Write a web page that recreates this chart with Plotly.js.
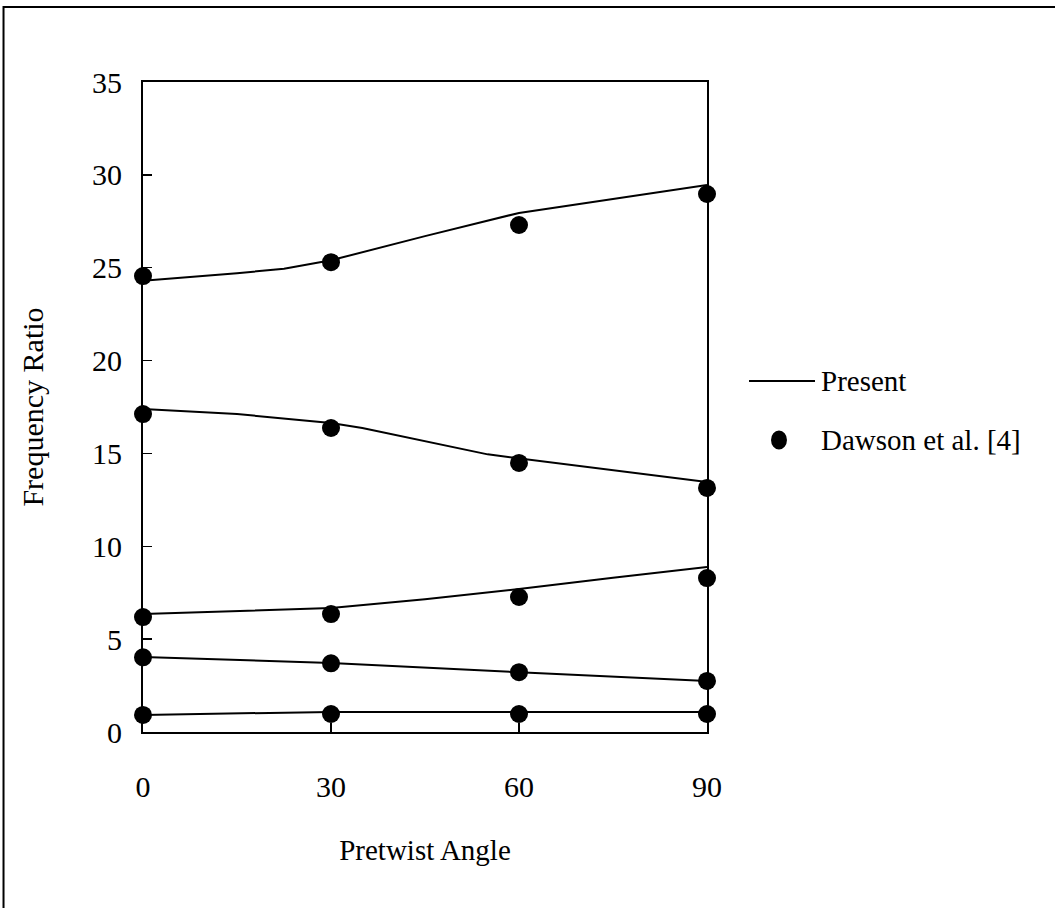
<!DOCTYPE html>
<html>
<head>
<meta charset="utf-8">
<script src="https://cdn.plot.ly/plotly-3.0.1.min.js"></script>
<style>html,body{margin:0;padding:0;background:#fff;}#chart{width:1055px;height:908px;}</style>
</head>
<body>
<div id="chart"></div>
<script>
// Present (lines)
const presentX1 = [0, 30, 60, 90];
const present1 = [0.92, 1.08, 1.08, 1.08];
const presentX2 = [0, 30, 60, 90];
const present2 = [4.04, 3.72, 3.22, 2.75];
const presentX3 = [0, 30, 45, 60, 75, 90];
const present3 = [6.35, 6.68, 7.15, 7.7, 8.3, 8.88];
const presentX4 = [0, 15, 30, 35, 55, 90];
const present4 = [17.39, 17.12, 16.64, 16.37, 14.95, 13.46];
const presentX5 = [0, 15, 22.5, 30, 45, 60, 90];
const present5 = [24.3, 24.7, 24.95, 25.4, 26.7, 27.95, 29.45];

// Dawson et al. [4] (points)
const dawsonX = [0, 30, 60, 90];
const dawson1 = [0.92, 0.97, 0.97, 0.97];
const dawson2 = [4.02, 3.7, 3.22, 2.75];
const dawson3 = [6.19, 6.35, 7.27, 8.29];
const dawson4 = [17.12, 16.37, 14.49, 13.14];
const dawson5 = [24.55, 25.3, 27.3, 28.97];

const xTicks = [0, 30, 60, 90];
const yTicks = [0, 5, 10, 15, 20, 25, 30, 35];

const font = "Liberation Serif, Times New Roman, serif";
const traces = [];
const lines = [[presentX1, present1], [presentX2, present2], [presentX3, present3], [presentX4, present4], [presentX5, present5]];
lines.forEach(([x, y], i) => traces.push({
  x: x, y: y, mode: 'lines', type: 'scatter', name: 'Present',
  line: {color: '#000', width: 2}, showlegend: false, cliponaxis: false, hoverinfo: 'skip'
}));
[dawson1, dawson2, dawson3, dawson4, dawson5].forEach((y, i) => traces.push({
  x: dawsonX, y: y, mode: 'markers', type: 'scatter', name: 'Dawson et al. [4]',
  marker: {color: '#000', size: 18, symbol: 'circle'}, showlegend: false, cliponaxis: false
}));

const layout = {
  width: 1055, height: 908,
  margin: {l: 143, r: 348, t: 82, b: 176},
  paper_bgcolor: '#fff', plot_bgcolor: '#fff',
  font: {family: font, color: '#000', size: 29},
  xaxis: {
    range: [0, 90], tickvals: xTicks, ticktext: xTicks.map(String),
    ticks: 'inside', ticklen: 9, tickwidth: 1.5, tickcolor: '#000',
    showline: true, linecolor: '#000', linewidth: 2, mirror: true,
    showgrid: false, zeroline: false, ticklabelstandoff: 27,
    tickfont: {family: font, size: 30},
    title: {text: 'Pretwist Angle', font: {family: font, size: 29}, standoff: 38}
  },
  yaxis: {
    range: [0, 35], tickvals: yTicks, ticktext: yTicks.map(String),
    ticks: 'inside', ticklen: 9, tickwidth: 1.5, tickcolor: '#000',
    showline: true, linecolor: '#000', linewidth: 2, mirror: true,
    showgrid: false, zeroline: false, ticklabelstandoff: 13,
    tickfont: {family: font, size: 30},
    title: {text: 'Frequency Ratio', font: {family: font, size: 30}, standoff: 40}
  },
  showlegend: false,
  shapes: [
    {type: 'rect', xref: 'paper', yref: 'paper', x0: -0.2473, x1: 2, y0: -1, y1: 1.1154,
     line: {color: '#000', width: 2}, fillcolor: 'rgba(0,0,0,0)', layer: 'below'},
    {type: 'line', xref: 'paper', yref: 'paper', x0: 1.0745, x1: 1.1915, y0: 0.5400, y1: 0.5400,
     line: {color: '#000', width: 2}},
    {type: 'circle', xref: 'paper', yref: 'paper', x0: 1.1135, x1: 1.1418, y0: 0.4348, y1: 0.4637,
     fillcolor: '#000', line: {color: '#000', width: 0}}
  ],
  annotations: [
    {xref: 'paper', yref: 'paper', x: 1.199, y: 0.5400, xanchor: 'left', yanchor: 'middle',
     text: 'Present', showarrow: false, font: {family: font, size: 29}},
    {xref: 'paper', yref: 'paper', x: 1.199, y: 0.4492, xanchor: 'left', yanchor: 'middle',
     text: 'Dawson et al. [4]', showarrow: false, font: {family: font, size: 29}}
  ]
};
Plotly.newPlot('chart', traces, layout, {staticPlot: true, displayModeBar: false});
</script>
</body>
</html>
